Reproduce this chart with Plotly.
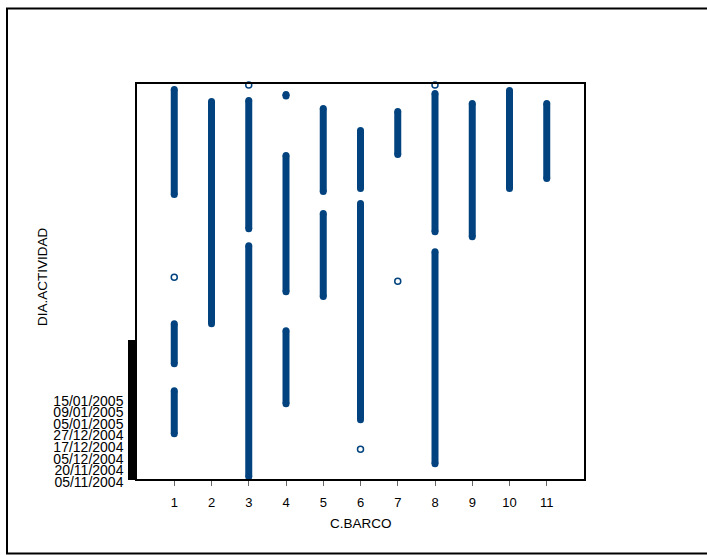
import numpy as np
import plotly.graph_objects as go

# Categories (C.BARCO)
barcos = [1, 2, 3, 4, 5, 6, 7, 8, 9, 10, 11]

# Y tick labels (DIA.ACTIVIDAD), placed at index positions 0..7 on the y scale
date_labels = ["05/11/2004", "20/11/2004", "05/12/2004", "17/12/2004",
               "27/12/2004", "05/01/2005", "09/01/2005", "15/01/2005"]
date_positions = [0, 1, 2, 3, 4, 5, 6, 7]

# Dense runs of observations per boat: (start, end) on the y scale
runs_start = {
    1: [33.44, 13.22, 7.43],
    2: [32.41],
    3: [32.49, 19.96],
    4: [33.01, 27.74, 12.62],
    5: [31.80, 22.73],
    6: [29.90, 23.59],
    7: [31.54],
    8: [33.10, 19.44],
    9: [32.23],
    10: [33.36],
    11: [32.23],
}
runs_end = {
    1: [24.37, 9.76, 3.71],
    2: [13.22],
    3: [21.43, 0.00],
    4: [32.88, 15.99, 6.31],
    5: [24.63, 15.56],
    6: [24.89, 4.93],
    7: [27.83],
    8: [21.17, 1.12],
    9: [20.74],
    10: [24.89],
    11: [25.75],
}

# Isolated observations
single_x = [1, 3, 6, 7, 8]
single_y = [17.24, 33.83, 2.38, 16.89, 33.83]

BLUE = "#02437F"
FONT = "Liberation Sans, Arial, sans-serif"

L, R, T, B = 137, 123, 84, 76
W, H = 707, 555

fig = go.Figure()

lx, ly = [], []
for b in barcos:
    for s, e in zip(runs_start[b], runs_end[b]):
        lx += [b, b, None]
        ly += [s, e, None]

fig.add_trace(go.Scatter(
    x=lx, y=ly, mode="lines+markers",
    line=dict(color=BLUE, width=7),
    marker=dict(color=BLUE, size=7, line=dict(width=0)),
    cliponaxis=False, showlegend=False, hoverinfo="skip"))

fig.add_trace(go.Scatter(
    x=single_x, y=single_y, mode="markers",
    marker=dict(symbol="circle-open", color=BLUE, size=6, line=dict(width=1.5)),
    cliponaxis=False, showlegend=False))

# dense y ticks (the black bar) with labels only at the date positions
dense = list(np.round(np.arange(-0.19, 11.8, 0.05), 3))
tickvals = sorted(set(dense) | set(date_positions))
lab = dict(zip(date_positions, date_labels))
ticktext = [lab.get(v, "") for v in tickvals]

W_plot = W - L - R
H_plot = H - T - B
def px2paper_x(px):
    return (px - L) / W_plot
def px2paper_y(py):
    return (H - B - py) / H_plot

fig.update_layout(
    width=W, height=H,
    margin=dict(l=L, r=R, t=T, b=B),
    paper_bgcolor="white", plot_bgcolor="white",
    font=dict(family=FONT, color="black", size=13),
    xaxis=dict(range=[0, 12], tickvals=barcos, ticktext=[str(b) for b in barcos],
               showgrid=False, zeroline=False, showline=True, mirror=True,
               linecolor="black", linewidth=1.5, ticks="outside", ticklen=5,
               tickcolor="#666666", tickwidth=1, ticklabelstandoff=6,
               tickfont=dict(size=13, family=FONT, color="black")),
    yaxis=dict(range=[-0.19, 33.92], tickvals=tickvals, ticktext=ticktext,
               showgrid=False, zeroline=False, showline=True, mirror=True,
               linecolor="black", linewidth=1.5, ticks="outside", ticklen=7,
               tickcolor="black", tickwidth=1, ticklabelstandoff=2,
               ticklabelshift=5,
               tickfont=dict(size=14, family=FONT, color="black")),
    annotations=[
        dict(text="C.BARCO", x=px2paper_x(360.5), y=px2paper_y(523),
             xref="paper", yref="paper", xanchor="center", yanchor="middle",
             showarrow=False, font=dict(size=13.5, family=FONT)),
        dict(text="DIA.ACTIVIDAD", x=px2paper_x(42), y=px2paper_y(277),
             xref="paper", yref="paper", xanchor="center", yanchor="middle",
             textangle=-90, showarrow=False, font=dict(size=13.5, family=FONT)),
    ],
)

# outer frame (right edge lies outside the page)
fig.add_shape(type="rect", xref="paper", yref="paper",
              x0=px2paper_x(7), x1=px2paper_x(715),
              y0=px2paper_y(553.5), y1=px2paper_y(8.5),
              line=dict(color="black", width=2), layer="below")

fig.write_html("out.html", config={"displayModeBar": False},
               post_script="document.body.style.margin='0';document.body.style.overflow='hidden';")
